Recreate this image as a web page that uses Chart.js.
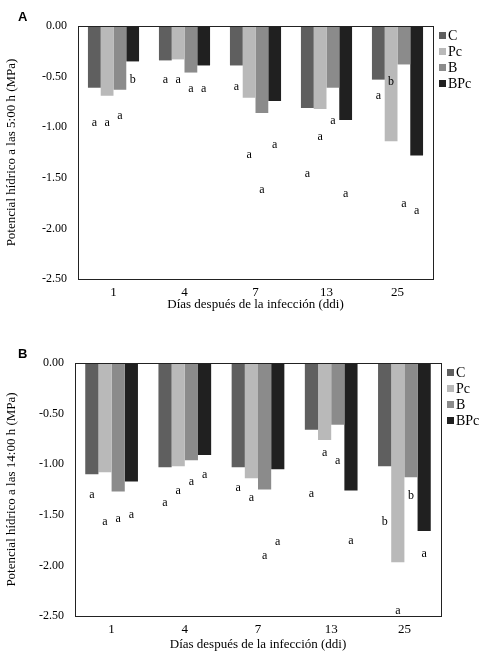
<!DOCTYPE html>
<html><head><meta charset="utf-8">
<script src="https://cdn.jsdelivr.net/npm/chart.js"></script>
<style>body{margin:0;background:#fff}#a,#b{position:absolute;left:0}#a{top:0}#b{top:330px}</style>
</head><body>
<div id="a" style="width:502px;height:320px"><canvas id="ca"></canvas></div>
<div id="b" style="width:502px;height:338px"><canvas id="cb"></canvas></div>
<script>
const categories=['1','4','7','13','25'];
const seriesNames=['C','Pc','B','BPc'];
const colors=['#5f5f5f','#b9b9b9','#8b8b8b','#202020'];
const yTicks=[0,-0.5,-1,-1.5,-2,-2.5];
// Chart A (5:00 h)
const aC=[-0.61,-0.34,-0.39,-0.81,-0.53];
const aPc=[-0.69,-0.33,-0.71,-0.82,-1.14];
const aB=[-0.63,-0.46,-0.86,-0.61,-0.38];
const aBPc=[-0.35,-0.39,-0.74,-0.93,-1.28];
const aLetters=[['a','a','a','b'],['a','a','a','a'],['a','a','a','a'],['a','a','a','a'],['a','b','a','a']];
const aLetterY=[[-0.96,-0.96,-0.89,-0.53],[-0.53,-0.53,-0.625,-0.625],[-0.605,-1.27,-1.62,-1.17],[-1.46,-1.10,-0.94,-1.66],[-0.69,-0.55,-1.76,-1.83]];
// Chart B (14:00 h)
const bC=[-1.10,-1.03,-1.03,-0.66,-1.02];
const bPc=[-1.08,-1.02,-1.14,-0.76,-1.97];
const bB=[-1.27,-0.96,-1.25,-0.61,-1.13];
const bBPc=[-1.17,-0.91,-1.05,-1.26,-1.66];
const bLetters=[['a','a','a','a'],['a','a','a','a'],['a','a','a','a'],['a','a','a','a'],['b','a','b','a']];
const bLetterY=[[-1.30,-1.57,-1.54,-1.50],[-1.38,-1.26,-1.17,-1.11],[-1.23,-1.33,-1.91,-1.77],[-1.29,-0.89,-0.97,-1.76],[-1.57,-2.45,-1.31,-1.89]];

const serif='"Liberation Serif","Times New Roman",serif';
function make(id,panel,yTitle,series,letters,letterY,pad,yW,xH){
  const extra={id:'extra',afterDraw(ch){
    const c=ch.ctx,a=ch.chartArea,y=ch.scales.y;
    c.save();
    c.strokeStyle='#222';c.lineWidth=1;
    c.strokeRect(a.left+0.5,a.top+0.5,a.right-a.left,a.bottom-a.top);
    c.fillStyle='#000';c.font='12px '+serif;c.textAlign='center';c.textBaseline='middle';
    for(let d=0;d<4;d++){const m=ch.getDatasetMeta(d);
      m.data.forEach((bar,i)=>{c.fillText(letters[i][d],bar.x,y.getPixelForValue(letterY[i][d]));});}
    c.textAlign='left';c.font='14px '+serif;
    seriesNames.forEach((n,k)=>{const ly=a.top+10+k*16;c.fillStyle=colors[k];c.fillRect(a.right+6,ly-4,7,7);c.fillStyle='#000';c.fillText(n,a.right+15,ly);});
    c.font='bold 13px "Liberation Sans",Arial,sans-serif';c.fillText(panel,18,a.top-9);
    c.restore();}};
  new Chart(document.getElementById(id),{type:'bar',
    data:{labels:categories,datasets:series.map((s,k)=>({label:seriesNames[k],data:s,backgroundColor:colors[k],categoryPercentage:0.72,barPercentage:1}))},
    options:{responsive:true,maintainAspectRatio:false,animation:false,
      layout:{padding:pad},
      plugins:{legend:{display:false},tooltip:{enabled:false}},
      scales:{
        x:{grid:{display:false,drawTicks:false},border:{color:'#222'},ticks:{color:'#000',font:{family:serif,size:13},padding:6},
           title:{display:true,text:'Días después de la infección (ddi)',color:'#000',font:{family:serif,size:13},padding:{top:0}},
           afterFit(s){s.height=xH;}},
        y:{min:-2.5,max:0,grid:{display:false},border:{color:'#222'},
           afterBuildTicks(s){s.ticks=yTicks.map(v=>({value:v}));},
           ticks:{color:'#000',font:{family:serif,size:12},callback:v=>v.toFixed(2)},
           title:{display:true,text:yTitle,color:'#000',font:{family:serif,size:13}},
           afterFit(s){s.width=yW;}}}},
    plugins:[extra]});
}
make('ca','A','Potencial hídrico a las 5:00 h (MPa)',[aC,aPc,aB,aBPc],aLetters,aLetterY,{top:26,right:69,left:0,bottom:4},78,37);
make('cb','B','Potencial hídrico a las 14:00 h (MPa)',[bC,bPc,bB,bBPc],bLetters,bLetterY,{top:33,right:61,left:0,bottom:12},75,40);
</script></body></html>
